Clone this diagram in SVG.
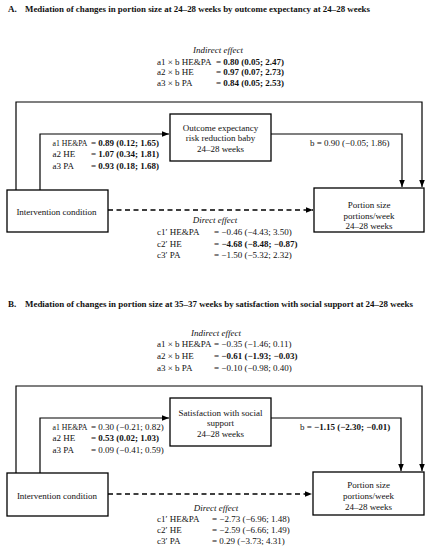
<svg xmlns="http://www.w3.org/2000/svg" width="433" height="550" viewBox="0 0 433 550">
<defs>
<marker id="ah" viewBox="0 0 10 10" refX="10" refY="5" markerWidth="7" markerHeight="7" markerUnits="userSpaceOnUse" orient="auto">
<path d="M0,1 L10,5 L0,9 Z" fill="#000"/>
</marker>
</defs>
<style>
text{font-family:"Liberation Serif","DejaVu Serif",serif;font-size:9px;fill:#111}
.t{font-weight:bold}
.b{font-weight:bold}
.i{font-style:italic}
.c{text-anchor:middle}
.s{font-size:8.2px}
.box{fill:#fff;stroke:#000;stroke-width:1.3}
.ln{fill:none;stroke:#000;stroke-width:1.2}
.dash{fill:none;stroke:#000;stroke-width:1.3;stroke-dasharray:5,3.5}
</style>
<rect width="433" height="550" fill="#fff"/>

<!-- Panel A -->
<g id="titleA">
<text class="t" x="8" y="11.5">A.</text>
<text class="t" x="25" y="11.5" textLength="345" lengthAdjust="spacingAndGlyphs">Mediation of changes in portion size at 24–28 weeks by outcome expectancy at 24–28 weeks</text>
</g>
<g id="indirectA">
<text class="i c" x="218" y="53">Indirect effect</text>
<text x="157" y="64.5">a1 × b HE&amp;PA</text><text x="216" y="64.5">= <tspan class="b">0.80 (0.05; 2.47)</tspan></text>
<text x="157" y="75">a2 × b HE</text><text x="216" y="75">= <tspan class="b">0.97 (0.07; 2.73)</tspan></text>
<text x="157" y="85.5">a3 × b PA</text><text x="216" y="85.5">= <tspan class="b">0.84 (0.05; 2.53)</tspan></text>
</g>
<g id="connectorsA">
<polyline class="ln" points="16,190 16,102 422,102 422,187" marker-end="url(#ah)"/>
<polyline class="ln" points="40,190 40,134 169,134" marker-end="url(#ah)"/>
<polyline class="ln" points="271,134 402,134 402,187" marker-end="url(#ah)"/>
<line class="dash" x1="108" y1="210" x2="313" y2="210" marker-end="url(#ah)"/>
</g>
<g id="aLabelsA">
<text class="s" x="52.5" y="145.5" textLength="35" lengthAdjust="spacingAndGlyphs">a1 HE&amp;PA</text><text x="91" y="145.5">= <tspan class="b">0.89 (0.12; 1.65)</tspan></text>
<text x="52.5" y="157">a2 HE</text><text x="91" y="157">= <tspan class="b">1.07 (0.34; 1.81)</tspan></text>
<text x="52.5" y="168.5">a3 PA</text><text x="91" y="168.5">= <tspan class="b">0.93 (0.18; 1.68)</tspan></text>
</g>
<g id="mediatorA">
<rect class="box" x="170" y="114" width="101" height="47"/>
<text class="c" x="220.5" y="130.5">Outcome expectancy</text>
<text class="c" x="220.5" y="141">risk reduction baby</text>
<text class="c" x="220.5" y="151.5">24–28 weeks</text>
</g>
<g id="bLabelA"><text x="310" y="146">b = 0.90 (−0.05; 1.86)</text></g>
<g id="interventionA">
<rect class="box" x="7" y="190" width="101" height="42"/>
<text class="c" x="56.5" y="215">Intervention condition</text>
</g>
<g id="portionA">
<rect class="box" x="314" y="188" width="110" height="44"/>
<text class="c" x="369" y="207.5">Portion size</text>
<text class="c" x="369" y="218.5">portions/week</text>
<text class="c" x="369" y="229">24–28 weeks</text>
</g>
<g id="directA">
<text class="i c" x="215" y="222.5">Direct effect</text>
<text x="157" y="235">c1′ HE&amp;PA</text><text x="214" y="235">= −0.46 (−4.43; 3.50)</text>
<text x="157" y="246.5">c2′ HE</text><text x="214" y="246.5" class="b">= −4.68 (−8.48; −0.87)</text>
<text x="157" y="258">c3′ PA</text><text x="214" y="258">= −1.50 (−5.32; 2.32)</text>
</g>

<!-- Panel B -->
<g id="titleB">
<text class="t" x="8" y="306.5">B.</text>
<text class="t" x="25" y="306.5" textLength="388" lengthAdjust="spacingAndGlyphs">Mediation of changes in portion size at 35–37 weeks by satisfaction with social support at 24–28 weeks</text>
</g>
<g id="indirectB">
<text class="i c" x="216" y="335.5">Indirect effect</text>
<text x="157" y="347">a1 × b HE&amp;PA</text><text x="214" y="347">= −0.35 (−1.46; 0.11)</text>
<text x="157" y="359">a2 × b HE</text><text x="214" y="359">= <tspan class="b">−0.61 (−1.93; −0.03)</tspan></text>
<text x="157" y="371">a3 × b PA</text><text x="214" y="371">= −0.10 (−0.98; 0.40)</text>
</g>
<g id="connectorsB">
<polyline class="ln" points="16,473 16,386 422,386 422,471" marker-end="url(#ah)"/>
<polyline class="ln" points="40,473 40,418 169,418" marker-end="url(#ah)"/>
<polyline class="ln" points="271,418 401,418 401,471" marker-end="url(#ah)"/>
<line class="dash" x1="108" y1="494" x2="312" y2="494" marker-end="url(#ah)"/>
</g>
<g id="aLabelsB">
<text class="s" x="52.5" y="429.5" textLength="35" lengthAdjust="spacingAndGlyphs">a1 HE&amp;PA</text><text x="91" y="429.5">= 0.30 (−0.21; 0.82)</text>
<text x="52.5" y="441">a2 HE</text><text x="91" y="441">= <tspan class="b">0.53 (0.02; 1.03)</tspan></text>
<text x="52.5" y="452.5">a3 PA</text><text x="91" y="452.5">= 0.09 (−0.41; 0.59)</text>
</g>
<g id="mediatorB">
<rect class="box" x="170" y="398" width="101" height="48"/>
<text class="c" x="220.5" y="415.5">Satisfaction with social</text>
<text class="c" x="220.5" y="426">support</text>
<text class="c" x="220.5" y="436.5">24–28 weeks</text>
</g>
<g id="bLabelB"><text x="300" y="429.5">b = <tspan class="b">−1.15 (−2.30; −0.01)</tspan></text></g>
<g id="interventionB">
<rect class="box" x="7" y="473" width="101" height="43"/>
<text class="c" x="57" y="499">Intervention condition</text>
</g>
<g id="portionB">
<rect class="box" x="313" y="472" width="111" height="43"/>
<text class="c" x="368.5" y="487.5">Portion size</text>
<text class="c" x="368.5" y="498.5">portions/week</text>
<text class="c" x="368.5" y="509.5">24–28 weeks</text>
</g>
<g id="directB">
<text class="i c" x="216" y="510.5">Direct effect</text>
<text x="157" y="521.5">c1′ HE&amp;PA</text><text x="212" y="521.5">= −2.73 (−6.96; 1.48)</text>
<text x="157" y="532.5">c2′ HE</text><text x="212" y="532.5">= −2.59 (−6.66; 1.49)</text>
<text x="157" y="543.5">c3′ PA</text><text x="212" y="543.5">=  0.29 (−3.73; 4.31)</text>
</g>
</svg>
